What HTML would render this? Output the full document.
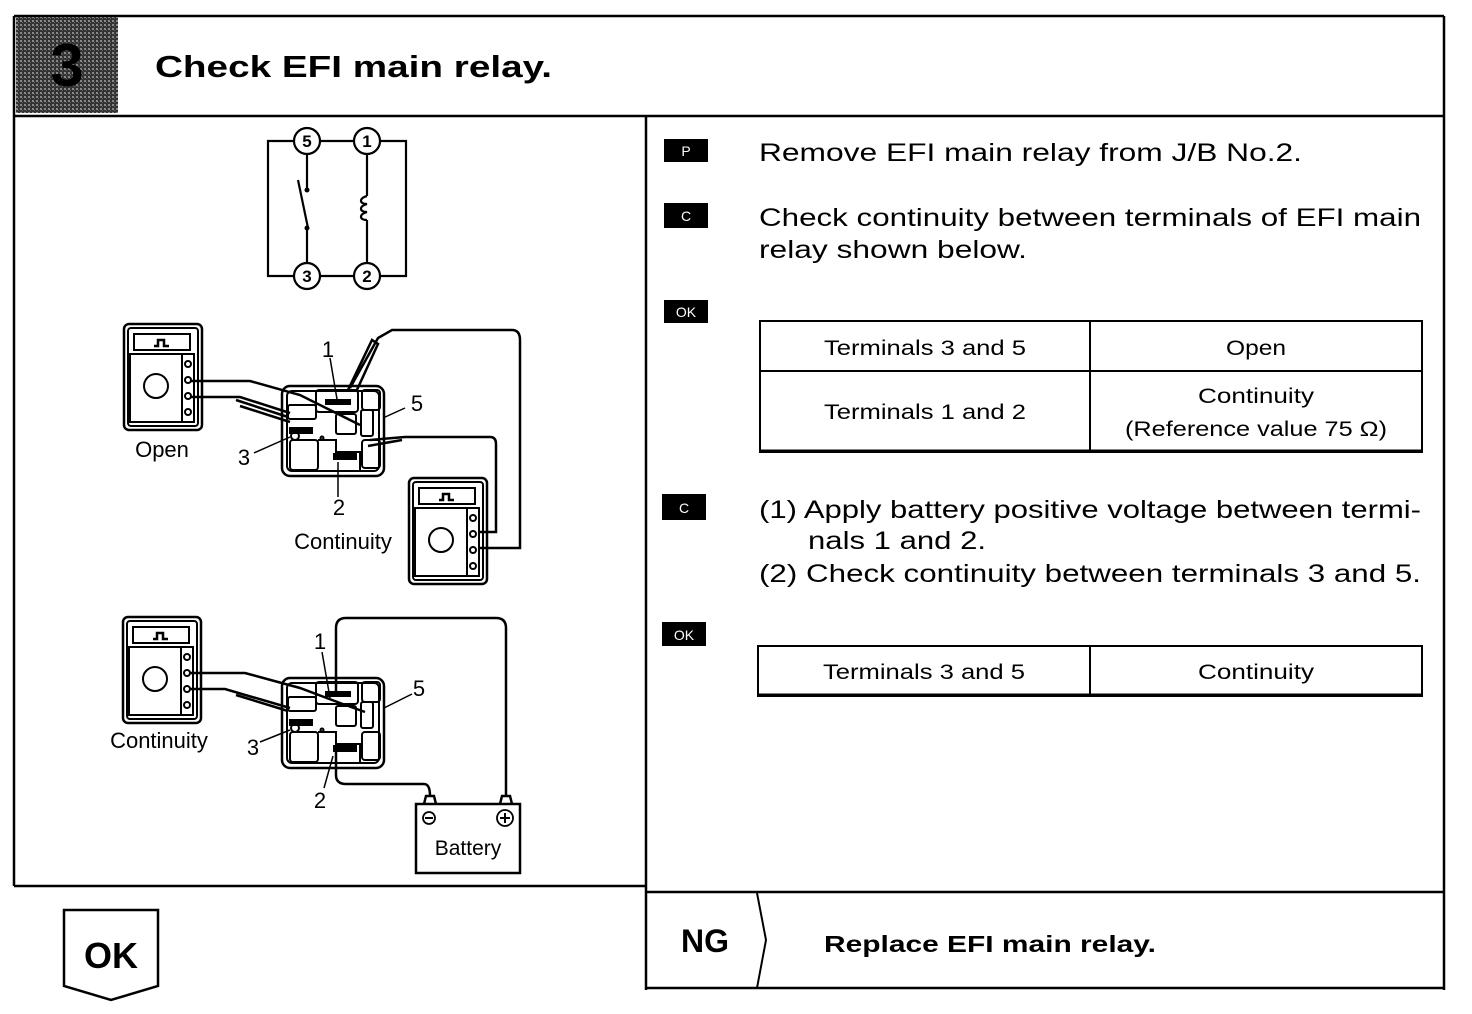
<!DOCTYPE html>
<html><head><meta charset="utf-8"><style>
html,body{margin:0;padding:0;background:#fff;width:1472px;height:1014px;overflow:hidden}
svg{display:block}
text{font-family:"Liberation Sans",Arial,sans-serif;fill:#000}
</style></head><body>
<svg width="1472" height="1014" viewBox="0 0 1472 1014" xmlns="http://www.w3.org/2000/svg">
<defs>
<pattern id="hat" width="4" height="4" patternUnits="userSpaceOnUse">
<rect width="4" height="4" fill="#333"/><rect width="2" height="2" fill="#888"/><rect x="2" y="2" width="1" height="1" fill="#666"/>
</pattern>
<g id="relay" fill="none" stroke="#000" stroke-width="2">
<rect x="282" y="386" width="102" height="90" rx="8" stroke-width="2.5"/>
<rect x="287" y="391" width="92" height="80" rx="5"/>
<rect x="316" y="390" width="42" height="22" rx="3"/>
<rect x="362" y="390" width="18" height="20" rx="3"/>
<rect x="288" y="405" width="28" height="14" rx="2"/>
<rect x="290" y="440" width="28" height="30" rx="3"/>
<rect x="362" y="440" width="18" height="28" rx="3"/>
<rect x="336" y="414" width="20" height="20" rx="2"/>
<rect x="361" y="410" width="12" height="26" rx="2"/>
<path d="M318 440 L336 440 L336 452 L360 452 L360 470" />
<rect x="326" y="400" width="24" height="4" fill="#000"/>
<rect x="334" y="454" width="22" height="5" fill="#000"/>
<rect x="290" y="428" width="22" height="5" fill="#000"/>
<circle cx="295" cy="436" r="4"/>
<circle cx="322" cy="438" r="1.5"/>
</g>
<g id="meter" fill="none" stroke="#000" stroke-width="2">
<rect x="0" y="0" width="78" height="106" rx="5" stroke-width="2.5"/>
<rect x="4" y="4" width="70" height="98" rx="3"/>
<rect x="10" y="10" width="56" height="16"/>
<path d="M30 22 L34 22 L34 16 L40 16 L40 22 L45 22" stroke-width="2.5"/>
<rect x="6" y="30" width="64" height="68"/>
<line x1="58" y1="30" x2="58" y2="98"/>
<circle cx="32" cy="62" r="12"/>
<circle cx="64" cy="40" r="3"/><circle cx="64" cy="56" r="3"/><circle cx="64" cy="72" r="3"/><circle cx="64" cy="88" r="3"/>
</g>
</defs>

<g fill="none" stroke="#000" stroke-width="2.5">
<line x1="14" y1="16" x2="1444" y2="16"/>
<line x1="1444" y1="16" x2="1444" y2="990"/>
<line x1="14" y1="16" x2="14" y2="886"/>
<line x1="14" y1="116" x2="1444" y2="116"/>
<line x1="14" y1="886" x2="646" y2="886"/>
<line x1="646" y1="116" x2="646" y2="990"/>
<line x1="646" y1="892" x2="1444" y2="892"/>
<line x1="646" y1="988" x2="1444" y2="988"/>
<path d="M757 893 L766 940 L757 988" stroke-width="2"/>
<path d="M64 910 L158 910 L158 986 L111 1000 L64 986 Z"/>
</g>
<rect x="16" y="17" width="102" height="96" fill="url(#hat)"/>
<text x="67" y="86" font-size="60" font-weight="bold" text-anchor="middle" style="fill:#000">3</text>
<text x="155" y="77" font-size="31" font-weight="bold" textLength="397" lengthAdjust="spacingAndGlyphs">Check EFI main relay.</text>
<text x="111" y="968" font-size="36" font-weight="bold" text-anchor="middle">OK</text>
<text x="705" y="952" font-size="32" font-weight="bold" text-anchor="middle">NG</text>
<text x="824" y="952" font-size="23" font-weight="bold" textLength="332" lengthAdjust="spacingAndGlyphs">Replace EFI main relay.</text>

<g fill="none" stroke="#000" stroke-width="2.2">
<path d="M294 141 L268 141 L268 276 L294 276"/>
<path d="M320 141 L354 141"/><path d="M380 141 L406 141 L406 276 L380 276"/>
<path d="M320 276 L354 276"/>
<line x1="307" y1="154" x2="307" y2="190"/>
<line x1="298" y1="180" x2="308" y2="228"/>
<line x1="307" y1="228" x2="307" y2="263"/>
<line x1="367" y1="154" x2="367" y2="196"/>
<path d="M367 196 c-8 2 -8 8 0 8 c-8 2 -8 8 0 8 c-8 2 -8 8 0 8"/>
<line x1="367" y1="220" x2="367" y2="263"/>
<circle cx="307" cy="141" r="13"/><circle cx="367" cy="141" r="13"/>
<circle cx="307" cy="276" r="13"/><circle cx="367" cy="276" r="13"/>
</g>
<circle cx="307" cy="190" r="2.5"/><circle cx="307" cy="228" r="2.5"/>
<g font-size="17" font-weight="bold" text-anchor="middle">
<text x="307" y="147">5</text><text x="367" y="147">1</text><text x="307" y="282">3</text><text x="367" y="282">2</text>
</g>

<use href="#relay"/>
<use href="#meter" x="124" y="324" transform="translate(0,0)"/>
<use href="#meter" x="409" y="478"/>
<g fill="none" stroke="#000" stroke-width="2.5">
<path d="M190 381 L250 381 L300 395 L330 410 L360 425"/>
<path d="M190 397 L240 397 L290 413"/>
<path d="M236 400 L288 417 M240 406 L290 422"/>
<path d="M350 388 L378 338 L392 330 L512 330 Q520 330 520 340 L520 548 L478 548"/>
<path d="M348 390 L372 340 L378 344 L356 392"/>
<path d="M370 440 L405 437 L490 437 Q496 437 496 444 L496 532 L478 532"/>
<path d="M368 446 L402 440"/>
</g>
<g stroke="#000" stroke-width="1.5">
<line x1="330" y1="358" x2="338" y2="405"/>
<line x1="383" y1="418" x2="405" y2="408"/>
<line x1="254" y1="453" x2="290" y2="437"/>
<line x1="338" y1="462" x2="338" y2="497"/>
</g>
<g font-size="22" text-anchor="middle">
<text x="328" y="357">1</text><text x="417" y="411">5</text><text x="244" y="465">3</text><text x="339" y="515">2</text>
<text x="162" y="457">Open</text><text x="343" y="549">Continuity</text>
<text x="159" y="748">Continuity</text>
</g>

<use href="#relay" y="292"/>
<use href="#meter" x="123" y="617"/>
<g fill="none" stroke="#000" stroke-width="2.5">
<path d="M189 673 L245 673 L300 688 L340 703 L365 712"/>
<path d="M189 689 L225 689 L290 708"/>
<path d="M236 695 L288 711"/>
<path d="M336 692 L336 628 Q336 618 346 618 L496 618 Q506 618 506 628 L506 796"/>
<path d="M336 752 L336 775 Q336 784 346 784 L424 784 Q430 784 430 796"/>
</g>
<g stroke="#000" stroke-width="1.5">
<line x1="322" y1="652" x2="330" y2="698"/>
<line x1="384" y1="708" x2="412" y2="694"/>
<line x1="260" y1="742" x2="290" y2="730"/>
<line x1="333" y1="756" x2="324" y2="788"/>
</g>
<g font-size="22" text-anchor="middle">
<text x="320" y="649">1</text><text x="419" y="696">5</text><text x="253" y="755">3</text><text x="320" y="808">2</text>
</g>
<g fill="none" stroke="#000" stroke-width="2.5">
<rect x="416" y="804" width="104" height="69"/>
<path d="M424 804 L426 796 L434 796 L436 804 M500 804 L502 796 L510 796 L512 804"/>
<circle cx="429" cy="818" r="6" stroke-width="1.8"/><circle cx="505" cy="818" r="8" stroke-width="1.8"/>
</g>
<path d="M425 818 H433 M500 818 H510 M505 813 V823" stroke="#000" stroke-width="2"/>
<text x="468" y="855" font-size="21" text-anchor="middle">Battery</text>

<g font-size="14" text-anchor="middle">
<rect x="664" y="139" width="44" height="23" fill="#000"/><text x="686" y="156" style="fill:#fff">P</text>
<rect x="664" y="203" width="44" height="25" fill="#000"/><text x="686" y="221" style="fill:#fff">C</text>
<rect x="664" y="300" width="44" height="23" fill="#000"/><text x="686" y="317" style="fill:#fff">OK</text>
<rect x="662" y="494" width="44" height="26" fill="#000"/><text x="684" y="513" style="fill:#fff">C</text>
<rect x="662" y="622" width="44" height="24" fill="#000"/><text x="684" y="640" style="fill:#fff">OK</text>
</g>
<g font-size="25">
<text x="759" y="161" textLength="543" lengthAdjust="spacingAndGlyphs">Remove EFI main relay from J/B No.2.</text>
<text x="759" y="226" textLength="662" lengthAdjust="spacingAndGlyphs">Check continuity between terminals of EFI main</text>
<text x="759" y="258" textLength="268" lengthAdjust="spacingAndGlyphs">relay shown below.</text>
<text x="759" y="518" textLength="662" lengthAdjust="spacingAndGlyphs">(1) Apply battery positive voltage between termi-</text>
<text x="808" y="549" textLength="178" lengthAdjust="spacingAndGlyphs">nals 1 and 2.</text>
<text x="759" y="582" textLength="662" lengthAdjust="spacingAndGlyphs">(2) Check continuity between terminals 3 and 5.</text>
</g>
<g fill="none" stroke="#000">
<rect x="760" y="321" width="662" height="131" stroke-width="2"/>
<line x1="760" y1="371" x2="1422" y2="371" stroke-width="2"/>
<line x1="1090" y1="321" x2="1090" y2="452" stroke-width="2"/>
<line x1="760" y1="451" x2="1422" y2="451" stroke-width="3"/>
<rect x="758" y="646" width="664" height="50" stroke-width="2"/>
<line x1="758" y1="695" x2="1422" y2="695" stroke-width="3"/>
<line x1="1090" y1="646" x2="1090" y2="696" stroke-width="2"/>
</g>
<g font-size="21" text-anchor="middle">
<text x="925" y="355" textLength="202" lengthAdjust="spacingAndGlyphs">Terminals 3 and 5</text><text x="1256" y="355" textLength="60" lengthAdjust="spacingAndGlyphs">Open</text>
<text x="925" y="419" textLength="202" lengthAdjust="spacingAndGlyphs">Terminals 1 and 2</text><text x="1256" y="403" textLength="116" lengthAdjust="spacingAndGlyphs">Continuity</text>
<text x="1256" y="436" textLength="262" lengthAdjust="spacingAndGlyphs">(Reference value 75 Ω)</text>
<text x="924" y="679" textLength="202" lengthAdjust="spacingAndGlyphs">Terminals 3 and 5</text><text x="1256" y="679" textLength="116" lengthAdjust="spacingAndGlyphs">Continuity</text>
</g>
</svg>
</body></html>
